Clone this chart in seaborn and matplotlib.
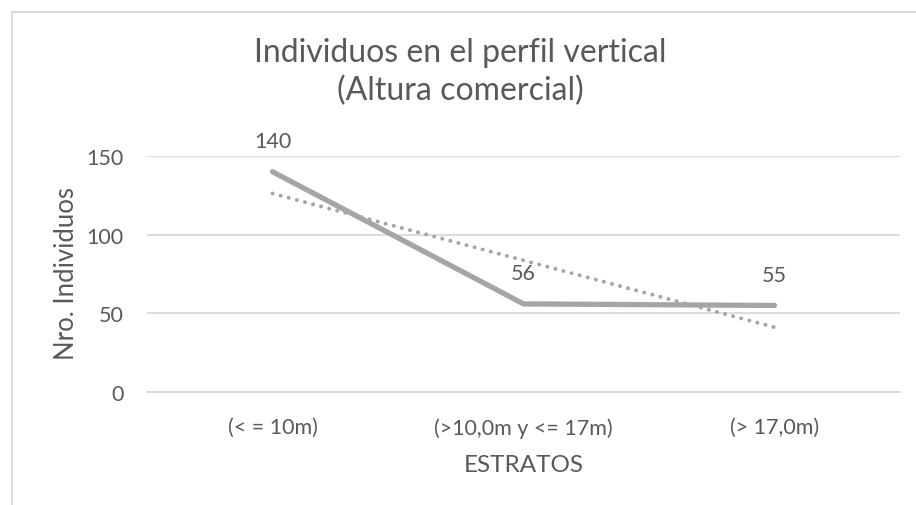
import matplotlib
matplotlib.use("Agg")
import matplotlib.pyplot as plt
from matplotlib.patches import Rectangle
import numpy as np
import pandas as pd
import seaborn as sns

# Individuals per vertical stratum (commercial height)
estratos = ["(< = 10m)", "(>10,0m y <= 17m)", "(> 17,0m)"]
individuos = [140, 56, 55]
y_ticks = [0, 50, 100, 150]

titulo = "Individuos en el perfil vertical\n(Altura comercial)"
x_titulo = "ESTRATOS"
y_titulo = "Nro. Individuos"

TEXT = "#595959"
GRID = "#D9D9D9"
LINE = "#A5A5A5"

sns.set_theme(style="white")
plt.rcParams["font.family"] = ["Lato", "DejaVu Sans"]

df = pd.DataFrame({"pos": np.arange(len(estratos)), "estrato": estratos,
                   "individuos": individuos})

W, H = 916, 506
fig = plt.figure(figsize=(W / 100, H / 100), dpi=100)
fig.patch.set_facecolor("white")

# plot area in pixel terms
left, right, top, bottom = 147, 900, 157, 393
ax = fig.add_axes([left / W, 1 - bottom / H, (right - left) / W, (bottom - top) / H])
ax.set_facecolor("white")

# linear trendline (dotted)
sns.regplot(data=df, x="pos", y="individuos", ax=ax, scatter=False, ci=None,
            truncate=True,
            line_kws=dict(color=LINE, lw=2.8, linestyle=(0, (0.05, 2.1)),
                          dash_capstyle="round", solid_capstyle="round", zorder=3))

# main series
sns.lineplot(data=df, x="pos", y="individuos", ax=ax, color=LINE, lw=3.8,
             solid_capstyle="round", solid_joinstyle="miter", zorder=4)

# data labels
for x, v in zip(df["pos"], df["individuos"]):
    ax.annotate(f"{v}", (x, v), xytext=(0, 22), textcoords="offset points",
                ha="center", va="center", fontsize=15.5, color=TEXT, zorder=5)

ax.set_xlim(-0.5, len(estratos) - 0.5)
ax.set_ylim(0, 150)
ax.set_yticks(y_ticks)
ax.set_yticklabels([str(t) for t in y_ticks])
ax.set_xticks(df["pos"])
ax.set_xticklabels(estratos)
ax.tick_params(axis="both", length=0, labelsize=15.5, labelcolor=TEXT)
ax.tick_params(axis="y", pad=17)
ax.tick_params(axis="x", pad=18)

ax.yaxis.grid(True, color=GRID, lw=1.3)
ax.xaxis.grid(False)
ax.set_axisbelow(True)
for s in ["top", "right", "left"]:
    ax.spines[s].set_visible(False)
ax.spines["bottom"].set_color(GRID)
ax.spines["bottom"].set_linewidth(1.3)

ax.set_xlabel(x_titulo, fontsize=17.5, color=TEXT, labelpad=12)
ax.set_ylabel("")

# vertical axis title placed in figure pixels
fig.text(66 / W, 1 - 274 / H, y_titulo, rotation=90, ha="center", va="center",
         fontsize=18.5, color=TEXT)

fig.text(460 / W, 1 - 72 / H, titulo, ha="center", va="center",
         fontsize=23, color=TEXT, linespacing=1.32)

# chart frame (continues past the right and bottom edges)
fig.patches.append(Rectangle((11.5 / W, -0.1), 1.2, (H - 12.5) / H + 0.1,
                             transform=fig.transFigure, fill=False,
                             edgecolor=GRID, lw=1.3, zorder=0))

fig.savefig("out.png", dpi=100, facecolor="white")
